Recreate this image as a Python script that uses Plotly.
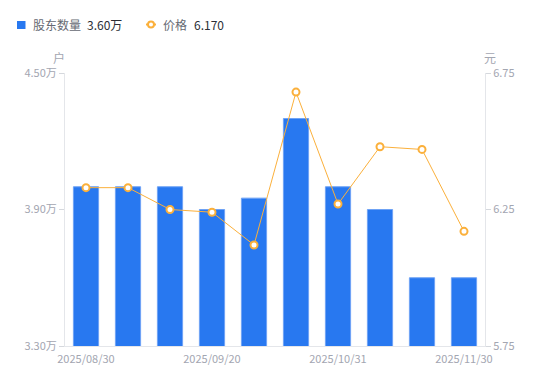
import plotly.graph_objects as go

dates = ["2025/08/30", "2025/09/06", "2025/09/13", "2025/09/20", "2025/09/30",
         "2025/10/20", "2025/10/31", "2025/11/10", "2025/11/20", "2025/11/30"]
holders = [4.00, 4.00, 4.00, 3.90, 3.95, 4.30, 4.00, 3.90, 3.60, 3.60]  # 万户
prices = [6.33, 6.33, 6.25, 6.24, 6.12, 6.68, 6.27, 6.48, 6.47, 6.17]
x_tick_labels = ["2025/08/30", "2025/09/20", "2025/10/31", "2025/11/30"]
left_ticks = [3.30, 3.90, 4.50]
right_ticks = [5.75, 6.25, 6.75]

BLUE = "#2878F0"
ORANGE = "#FBB03B"
TICK = "#A3A6B1"
FONT = "Noto Sans CJK SC, Noto Sans, sans-serif"

OFF = 8  # page body margin
W, H = 550 - OFF, 381 - OFF
# plot area in page pixels: x 65..485, y 73..346
L, R, T, B = 65 - OFF, 550 - 485, 73 - OFF, 381 - 346
PW, PH = W - L - R, H - T - B

def px2paper(px, py):
    # px, py in page pixels
    return (px - 65) / PW, (346 - py) / PH

fig = go.Figure()
fig.add_trace(go.Bar(x=dates, y=holders, marker=dict(color=BLUE, line=dict(color="#6FA3F5", width=1)),
                     yaxis="y", name="股东数量", hoverinfo="skip"))
fig.add_trace(go.Scatter(x=dates, y=prices, mode="lines+markers", yaxis="y2", name="价格",
                         line=dict(color=ORANGE, width=1),
                         marker=dict(symbol="circle", size=7, color="white",
                                     line=dict(color=ORANGE, width=2)),
                         hoverinfo="skip"))

fig.update_layout(
    width=W, height=H,
    margin=dict(l=L, r=R, t=T, b=B),
    paper_bgcolor="white", plot_bgcolor="white",
    showlegend=False,
    bargap=0.4,
    font=dict(family=FONT, size=11, color=TICK),
    xaxis=dict(type="category", tickmode="array", tickvals=x_tick_labels, ticktext=x_tick_labels,
               showgrid=False, showline=True, linecolor="#E4E6EA", linewidth=1,
               ticks="", ticklabelstandoff=3, tickfont=dict(size=11, color=TICK),
               range=[-0.5, 9.5], fixedrange=True),
    yaxis=dict(range=[3.30, 4.50], tickvals=left_ticks, ticktext=[f"{v:.2f}万" for v in left_ticks],
               showgrid=False, zeroline=False, showline=True, linecolor="#E4E6EA", linewidth=1,
               ticks="outside", ticklen=5, tickcolor="#D5D8DD", tickfont=dict(size=11, color=TICK)),
    yaxis2=dict(range=[5.75, 6.75], tickvals=right_ticks, ticktext=[f"{v:.2f}" for v in right_ticks],
                overlaying="y", side="right",
                showgrid=False, zeroline=False, showline=True, linecolor="#E4E6EA", linewidth=1,
                ticks="outside", ticklen=5, tickcolor="#D5D8DD", tickfont=dict(size=11, color=TICK)),
)

# Manual legend
shapes = []
x0, y0 = px2paper(17, 21)
x1, y1 = px2paper(25.5, 29)
shapes.append(dict(type="rect", xref="paper", yref="paper", x0=x0, y0=y1, x1=x1, y1=y0,
                   fillcolor=BLUE, line=dict(width=0)))
lx0, ly = px2paper(146, 24.5)
lx1, _ = px2paper(156, 24.5)
shapes.append(dict(type="line", xref="paper", yref="paper", x0=lx0, y0=ly, x1=lx1, y1=ly,
                   line=dict(color=ORANGE, width=2)))
cx0, cy0 = px2paper(148, 21.5)
cx1, cy1 = px2paper(154, 27.5)
shapes.append(dict(type="circle", xref="paper", yref="paper", x0=cx0, y0=cy1, x1=cx1, y1=cy0,
                   fillcolor="white", line=dict(color=ORANGE, width=2)))
fig.update_layout(shapes=shapes)

def ann(text, px, py, color, size=12, xanchor="left"):
    x, y = px2paper(px, py)
    fig.add_annotation(text=text, x=x, y=y, xref="paper", yref="paper", showarrow=False,
                       xanchor=xanchor, yanchor="middle", font=dict(size=size, color=color, family=FONT))

ann("股东数量", 31, 24.5, "#666A73")
ann(f"{holders[-1]:.2f}万", 85, 24.5, "#2B2F36")
ann("价格", 161, 24.5, "#666A73")
ann(f"{prices[-1]:.3f}", 192, 24.5, "#2B2F36")
ann("户", 58.5, 57, TICK, size=12, xanchor="center")
ann("元", 490, 57, TICK, size=12, xanchor="center")

fig.write_html("out.html")
